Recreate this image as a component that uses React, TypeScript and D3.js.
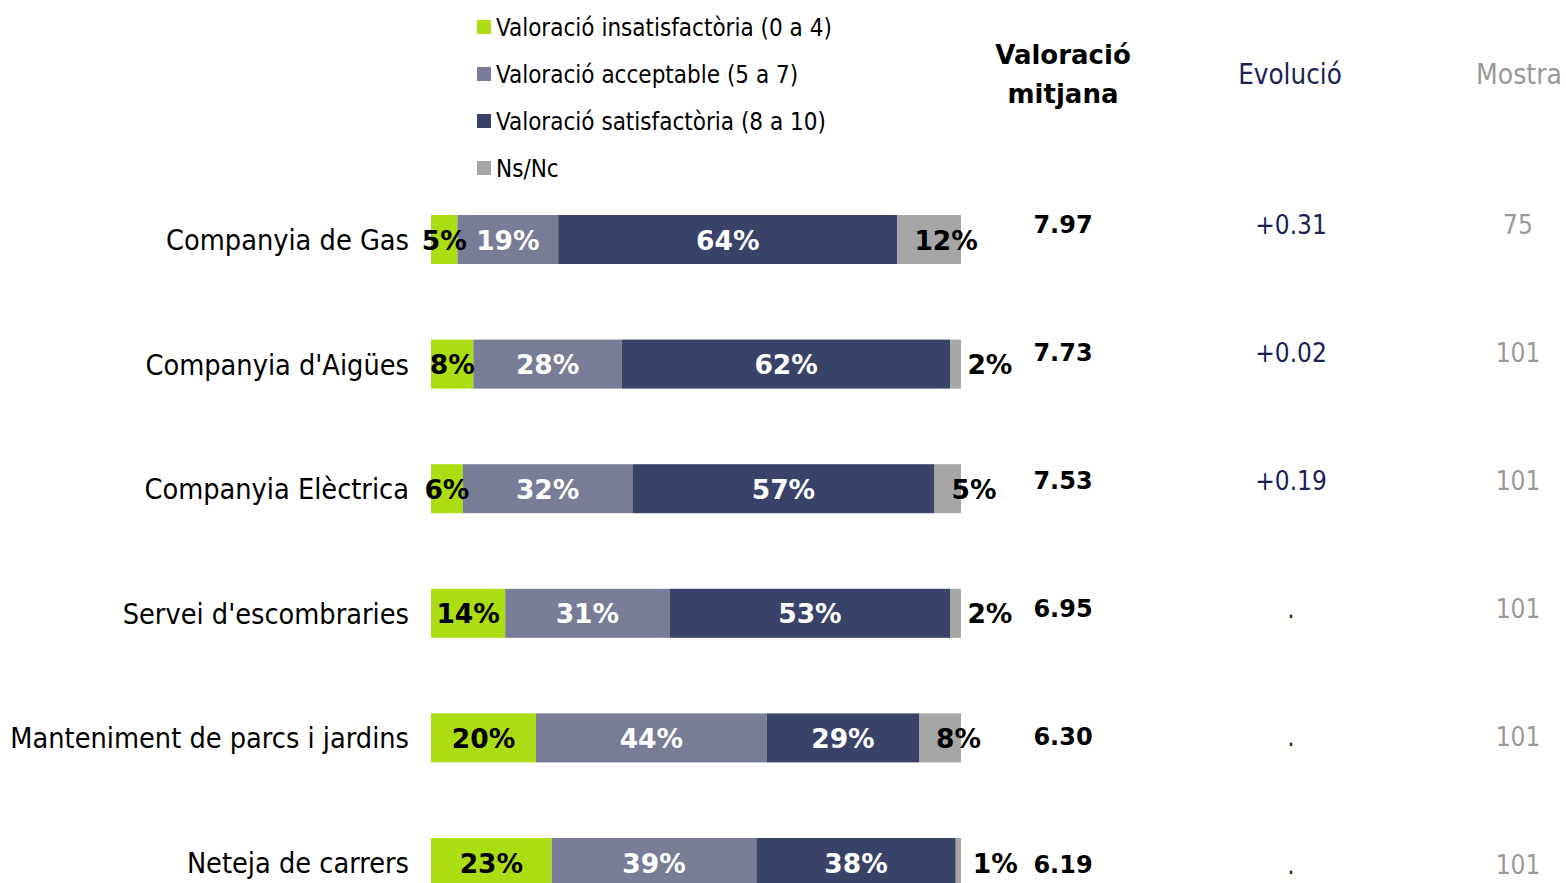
import React from "react";
import * as d3 from "d3";

const categories = [
  "Companyia de Gas",
  "Companyia d'Aigües",
  "Companyia Elèctrica",
  "Servei d'escombraries",
  "Manteniment de parcs i jardins",
  "Neteja de carrers",
];
const seriesNames = [
  "Valoració insatisfactòria (0 a 4)",
  "Valoració acceptable (5 a 7)",
  "Valoració satisfactòria (8 a 10)",
  "Ns/Nc",
];
const insatisfactoria = [5, 8, 6, 14, 20, 23];
const acceptable = [19, 28, 32, 31, 44, 39];
const satisfactoria = [64, 62, 57, 53, 29, 38];
const nsnc = [12, 2, 5, 2, 8, 1];
const mitjana = ["7.97", "7.73", "7.53", "6.95", "6.30", "6.19"];
const evolucio = ["+0.31", "+0.02", "+0.19", ".", ".", "."];
const mostra = ["75", "101", "101", "101", "101", "101"];

const colors = ["#acdc12", "#787c97", "#394269", "#a6a6a6"];
const labelColors = ["#000", "#fff", "#fff", "#000"];
const FONT = "'DejaVu Sans', Verdana, sans-serif";
const COND = "'DejaVu Sans Condensed', 'DejaVu Sans', sans-serif";

export default function App() {
  const W = 1566;
  const H = 883;
  const series = [insatisfactoria, acceptable, satisfactoria, nsnc];
  const yBar = d3.scalePoint<string>().domain(categories).range([239.5, 862.5]);
  const yVal = d3.scalePoint<string>().domain(categories).range([224, 864]);
  const barH = 49;
  const x0 = 431;
  const x1 = 961;

  return (
    <svg
      width={W}
      height={H}
      style={{ position: "absolute", left: 0, top: 0, background: "#fff" }}
      fontFamily={FONT}
    >
      {/* legend */}
      {seriesNames.map((n, i) => {
        const cy = 27 + i * 47;
        return (
          <g key={n}>
            <rect x={477} y={cy - 7} width={14} height={14} fill={colors[i]} />
            <text x={496} y={cy + 9} fontSize={24} fontFamily={COND} fill="#000">
              {n}
            </text>
          </g>
        );
      })}

      {/* column headers */}
      <text x={1063} y={64} fontSize={26} fontWeight="bold" textAnchor="middle" fill="#000">
        Valoració
      </text>
      <text x={1063} y={103} fontSize={26} fontWeight="bold" textAnchor="middle" fill="#000">
        mitjana
      </text>
      <text x={1290} y={84} fontSize={27.5} fontFamily={COND} textAnchor="middle" fill="#1b2256">
        Evolució
      </text>
      <text x={1519} y={84} fontSize={28} fontFamily={COND} textAnchor="middle" fill="#999999">
        Mostra
      </text>

      {categories.map((c, r) => {
        const total = d3.sum(series, (s) => s[r]);
        const x = d3.scaleLinear().domain([0, total]).range([x0, x1]);
        const cy = yBar(c)!;
        let acc = 0;
        const segs = series.map((s, i) => {
          const start = acc;
          acc += s[r];
          return { i, v: s[r], start, end: acc };
        });
        const vy = yVal(c)!;
        return (
          <g key={c}>
            <text x={409} y={cy + 10.5} fontSize={28.6} fontFamily={COND} textAnchor="end" fill="#000">
              {c}
            </text>
            {segs.map((s) => (
              <rect
                key={s.i}
                x={x(s.start)}
                y={cy - barH / 2}
                width={x(s.end) - x(s.start)}
                height={barH}
                fill={colors[s.i]}
              />
            ))}
            {segs.map((s) =>
              s.i === 3 ? (
                <text
                  key={"l" + s.i}
                  x={x(s.start) + 17}
                  y={cy + 10}
                  fontSize={26.5}
                  fontWeight="bold"
                  fill={labelColors[s.i]}
                >
                  {s.v + "%"}
                </text>
              ) : (
                <text
                  key={"l" + s.i}
                  x={(x(s.start) + x(s.end)) / 2}
                  y={cy + 10}
                  fontSize={26.5}
                  fontWeight="bold"
                  textAnchor="middle"
                  fill={labelColors[s.i]}
                >
                  {s.v + "%"}
                </text>
              )
            )}
            <text x={1063} y={vy + 9} fontSize={24} fontWeight="bold" textAnchor="middle" fill="#000">
              {mitjana[r]}
            </text>
            <text x={1291} y={vy + 9.5} fontSize={26} fontFamily={COND} textAnchor="middle" fill="#1b2256">
              {evolucio[r]}
            </text>
            <text x={1518} y={vy + 9.5} fontSize={26} fontFamily={COND} textAnchor="middle" fill="#999999">
              {mostra[r]}
            </text>
          </g>
        );
      })}
    </svg>
  );
}
